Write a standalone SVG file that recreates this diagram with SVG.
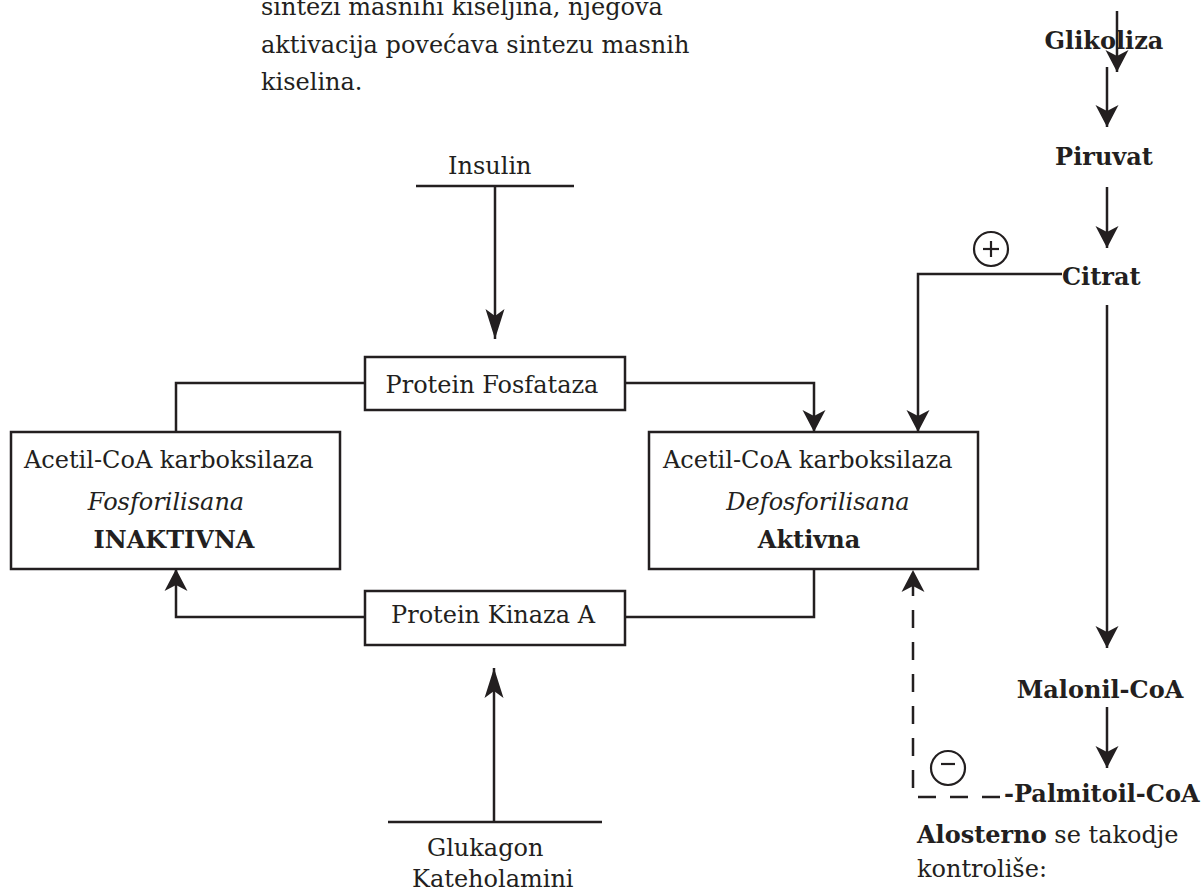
<svg xmlns="http://www.w3.org/2000/svg" width="1203" height="893" viewBox="0 0 1203 893">
  <style>
    text { font-family: "DejaVu Serif", "Liberation Serif", serif; font-size: 24px; fill: #231f20; }
    .b { font-weight: bold; }
    .i { font-style: italic; }
    .mid { text-anchor: middle; }
    .box { fill: #ffffff; stroke: #231f20; stroke-width: 2.5; }
    .ln { fill: none; stroke: #231f20; stroke-width: 2.5; }
    .dash { fill: none; stroke: #231f20; stroke-width: 2.5; stroke-dasharray: 18 14; }
    .sign { fill: none; stroke: #231f20; stroke-width: 2.2; }
  </style>
  <defs>
    <!-- short barbed arrowhead -->
    <marker id="head" markerUnits="userSpaceOnUse" markerWidth="30" markerHeight="30" viewBox="-26 -15 30 30" refX="0" refY="0" orient="auto">
      <path d="M0,0 L-22,-11.5 L-16,0 L-22,11.5 Z" fill="#231f20"/>
    </marker>
    <!-- long slim arrowhead -->
    <marker id="slim" markerUnits="userSpaceOnUse" markerWidth="36" markerHeight="24" viewBox="-34 -12 36 24" refX="0" refY="0" orient="auto">
      <path d="M0,0 L-30,-9.5 L-23,0 L-30,9.5 Z" fill="#231f20"/>
    </marker>
  </defs>

  <!-- intro paragraph -->
  <g id="intro">
    <text x="261" y="15">sintezi masnihi kiseljina, njegova</text>
    <text x="261" y="53">aktivacija povećava sintezu masnih</text>
    <text x="261" y="90">kiselina.</text>
  </g>

  <!-- connectors -->
  <g id="connectors">
    <!-- hormone inputs -->
    <line class="ln" x1="416" y1="186" x2="574" y2="186"/>
    <line class="ln" x1="495" y1="186" x2="495" y2="339" marker-end="url(#slim)"/>
    <line class="ln" x1="388" y1="822" x2="602" y2="822"/>
    <line class="ln" x1="494" y1="822" x2="494" y2="668" marker-end="url(#slim)"/>

    <!-- phosphatase / kinase loop -->
    <polyline class="ln" points="365,383 176,383 176,432"/>
    <polyline class="ln" points="625,383 814,383 814,432" marker-end="url(#head)"/>
    <polyline class="ln" points="814,569 814,617 625,617"/>
    <polyline class="ln" points="365,617 176,617 176,569" marker-end="url(#head)"/>

    <!-- citrate activation -->
    <polyline class="ln" points="1062,274 918,274 918,432" marker-end="url(#head)"/>

    <!-- palmitoyl-CoA inhibition -->
    <polyline class="dash" points="1000,797 913,797 913,570" marker-end="url(#head)"/>

    <!-- metabolic pathway -->
    <line class="ln" x1="1117" y1="11" x2="1117" y2="72" marker-end="url(#head)"/>
    <line class="ln" x1="1107" y1="67" x2="1107" y2="127" marker-end="url(#head)"/>
    <line class="ln" x1="1107" y1="187" x2="1107" y2="248" marker-end="url(#head)"/>
    <line class="ln" x1="1107" y1="305" x2="1107" y2="648" marker-end="url(#head)"/>
    <line class="ln" x1="1107" y1="707" x2="1107" y2="768" marker-end="url(#head)"/>
  </g>

  <g id="insulin">
    <text x="448" y="174">Insulin</text>
  </g>

  <g id="glukagon">
    <text x="427" y="856">Glukagon</text>
    <text x="412" y="887">Kateholamini</text>
  </g>

  <g id="protein-fosfataza">
    <rect class="box" x="365" y="357" width="260" height="53"/>
    <text class="mid" x="492" y="393">Protein Fosfataza</text>
  </g>

  <g id="protein-kinaza">
    <rect class="box" x="365" y="591" width="260" height="54"/>
    <text class="mid" x="493" y="623">Protein Kinaza A</text>
  </g>

  <g id="acc-inaktivna">
    <rect class="box" x="11" y="432" width="329" height="137"/>
    <text x="24" y="468">Acetil-CoA karboksilaza</text>
    <text class="i mid" x="166" y="510">Fosforilisana</text>
    <text class="b mid" x="174" y="548">INAKTIVNA</text>
  </g>

  <g id="acc-aktivna">
    <rect class="box" x="649" y="432" width="329" height="137"/>
    <text x="663" y="468">Acetil-CoA karboksilaza</text>
    <text class="i mid" x="818" y="510">Defosforilisana</text>
    <text class="b mid" x="809" y="548">Aktivna</text>
  </g>

  <g id="glikoliza">
    <text class="b mid" x="1104" y="49">Glikoliza</text>
  </g>

  <g id="piruvat">
    <text class="b mid" x="1104" y="165">Piruvat</text>
  </g>

  <g id="citrat">
    <text class="b" x="1062" y="285">Citrat</text>
  </g>

  <g id="malonil-coa">
    <text class="b mid" x="1100" y="698">Malonil-CoA</text>
  </g>

  <g id="palmitoil-coa">
    <text class="b" x="1004" y="802">-Palmitoil-CoA</text>
  </g>

  <!-- regulation signs -->
  <g id="plus">
    <circle class="sign" cx="991" cy="249" r="17"/>
    <line class="sign" x1="983" y1="249" x2="999" y2="249"/>
    <line class="sign" x1="991" y1="241" x2="991" y2="257"/>
  </g>
  <g id="minus">
    <circle class="sign" cx="948" cy="768" r="17"/>
    <line class="sign" x1="941" y1="764" x2="955" y2="764" stroke-width="3"/>
  </g>

  <g id="note">
    <text x="917" y="843"><tspan class="b">Alosterno</tspan> se takodje</text>
    <text x="917" y="877">kontroliše:</text>
  </g>
</svg>
